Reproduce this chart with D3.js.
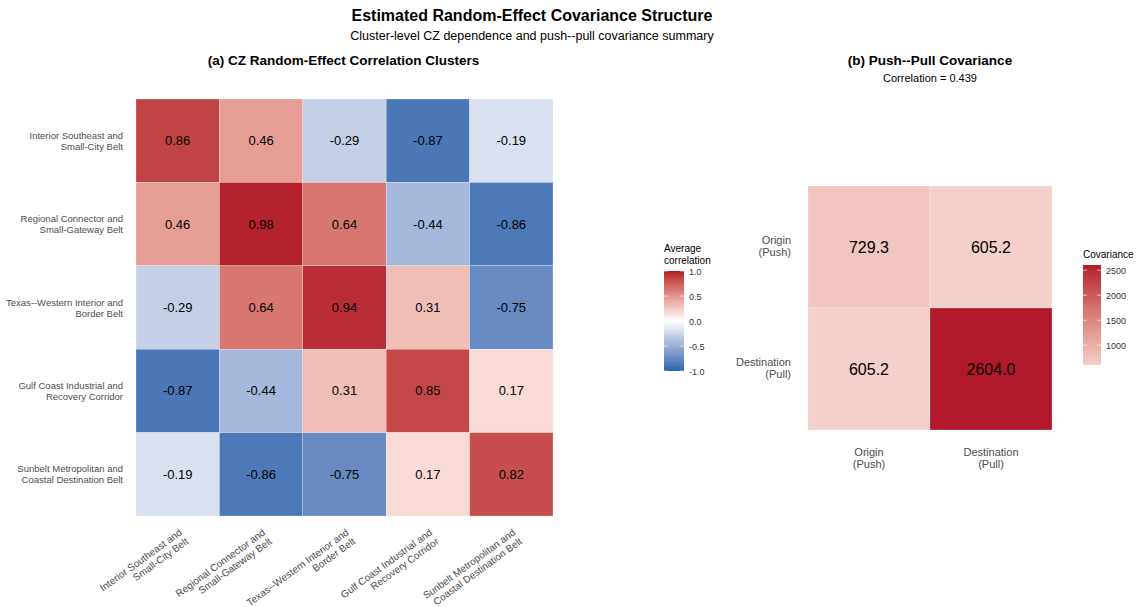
<!DOCTYPE html>
<html>
<head>
<meta charset="utf-8">
<script src="https://cdn.jsdelivr.net/npm/d3@7"></script>
<style>
  body { margin: 0; background: #fff; }
  text { font-family: "Liberation Sans", Arial, sans-serif; }
</style>
</head>
<body>
<svg id="chart" width="1144" height="607"></svg>
<script>
// cluster names (two-line labels)
const clusters = [
  ["Interior Southeast and", "Small-City Belt"],
  ["Regional Connector and", "Small-Gateway Belt"],
  ["Texas--Western Interior and", "Border Belt"],
  ["Gulf Coast Industrial and", "Recovery Corridor"],
  ["Sunbelt Metropolitan and", "Coastal Destination Belt"]
]
const corrRows = [
  [0.86, 0.46, -0.29, -0.87, -0.19],
  [0.46, 0.98, 0.64, -0.44, -0.86],
  [-0.29, 0.64, 0.94, 0.31, -0.75],
  [-0.87, -0.44, 0.31, 0.85, 0.17],
  [-0.19, -0.86, -0.75, 0.17, 0.82]
]
const corrTicks = [1.0, 0.5, 0.0, -0.5, -1.0]

const ppLabels = [["Origin", "(Push)"], ["Destination", "(Pull)"]]
const covRows = [
  [729.3, 605.2],
  [605.2, 2604.0]
]
const covTicks = [2500, 2000, 1500, 1000]
const ppCorrelation = 0.439

const svg = d3.select('#chart')

// titles
svg.append('text').attr('x', 532).attr('y', 21).attr('text-anchor', 'middle')
  .style('font-size', '16px').style('font-weight', 'bold')
  .text('Estimated Random-Effect Covariance Structure')
svg.append('text').attr('x', 532).attr('y', 40).attr('text-anchor', 'middle')
  .style('font-size', '12.5px')
  .text('Cluster-level CZ dependence and push--pull covariance summary')

// ---- panel (a)
const a = { x: 136, y: 99, size: 417 }
const idx = d3.range(clusters.length)
const xA = d3.scaleBand().domain(idx).range([a.x, a.x + a.size])
const yA = d3.scaleBand().domain(idx).range([a.y, a.y + a.size])

const corrColor = d3.scaleLinear()
  .domain([-1, 0, 1])
  .range(['#2166AC', '#FFFFFF', '#B2182B'])
  .interpolate(d3.interpolateLab)
  .clamp(true)

svg.append('text').attr('x', a.x + a.size / 2 - 1).attr('y', 65).attr('text-anchor', 'middle')
  .style('font-size', '13.5px').style('font-weight', 'bold')
  .text('(a) CZ Random-Effect Correlation Clusters')

const cellsA = []
corrRows.forEach((row, i) => row.forEach((v, j) => cellsA.push({ i, j, v })))

const gA = svg.append('g')
gA.selectAll('rect').data(cellsA).enter().append('rect')
  .attr('x', d => xA(d.j)).attr('y', d => yA(d.i))
  .attr('width', xA.bandwidth()).attr('height', yA.bandwidth())
  .attr('fill', d => corrColor(d.v))
  .attr('stroke', '#ffffff').attr('stroke-width', 0.4).attr('stroke-opacity', 0.6)
gA.selectAll('text').data(cellsA).enter().append('text')
  .attr('x', d => xA(d.j) + xA.bandwidth() / 2)
  .attr('y', d => yA(d.i) + yA.bandwidth() / 2 + 4.5)
  .attr('text-anchor', 'middle').style('font-size', '13px').attr('fill', '#000')
  .text(d => d.v.toFixed(2))

// y labels
clusters.forEach((lab, i) => {
  const t = svg.append('text').attr('text-anchor', 'end')
    .attr('x', a.x - 13).attr('y', yA(i) + yA.bandwidth() / 2 - 2)
    .style('font-size', '9.5px').attr('fill', '#4d4d4d')
  lab.forEach((s, k) => t.append('tspan').attr('x', a.x - 13).attr('dy', k ? 11 : 0).text(s))
})
// x labels rotated
clusters.forEach((lab, j) => {
  const cx = xA(j) + xA.bandwidth() / 2 + 5
  const t = svg.append('text').attr('text-anchor', 'end')
    .attr('transform', `translate(${cx},${a.y + a.size + 18}) rotate(-36)`)
    .style('font-size', '10px').attr('fill', '#4d4d4d')
  lab.forEach((s, k) => t.append('tspan').attr('x', 0).attr('dy', k ? 11 : 0).text(s))
})

// legend (a)
const defs = svg.append('defs')
const gradA = defs.append('linearGradient').attr('id', 'gradA')
  .attr('x1', 0).attr('y1', 1).attr('x2', 0).attr('y2', 0)
d3.range(0, 1.0001, 0.05).forEach(t => gradA.append('stop')
  .attr('offset', t).attr('stop-color', corrColor(-1 + 2 * t)))

const legA = { x: 664, y: 271, w: 20, h: 100 }
const yLegA = d3.scaleLinear().domain([-1, 1]).range([legA.y + legA.h, legA.y])
svg.append('text').attr('x', legA.x).attr('y', 252).style('font-size', '10px').text('Average')
svg.append('text').attr('x', legA.x).attr('y', 264).style('font-size', '10px').text('correlation')
svg.append('rect').attr('x', legA.x).attr('y', legA.y).attr('width', legA.w).attr('height', legA.h)
  .attr('fill', 'url(#gradA)')
corrTicks.forEach(v => {
  const y = yLegA(v)
  svg.append('line').attr('x1', legA.x).attr('x2', legA.x + 4).attr('y1', y).attr('y2', y)
    .attr('stroke', '#fff').attr('stroke-opacity', 0.6)
  svg.append('line').attr('x1', legA.x + legA.w - 4).attr('x2', legA.x + legA.w).attr('y1', y).attr('y2', y)
    .attr('stroke', '#fff').attr('stroke-opacity', 0.6)
  svg.append('text').attr('x', legA.x + legA.w + 5).attr('y', y + 3.5)
    .style('font-size', '9px').attr('fill', '#333').text(v.toFixed(1))
})

// ---- panel (b)
const b = { x: 808, y: 186, size: 244 }
const ppIdx = d3.range(ppLabels.length)
const xB = d3.scaleBand().domain(ppIdx).range([b.x, b.x + b.size])
const yB = d3.scaleBand().domain(ppIdx).range([b.y, b.y + b.size])
const covExtent = d3.extent(covRows.flat())
const covColor = d3.scaleLinear().domain(covExtent).range(['#F4CFCB', '#B2182B'])
  .interpolate(d3.interpolateLab)

svg.append('text').attr('x', 930).attr('y', 65).attr('text-anchor', 'middle')
  .style('font-size', '13.5px').style('font-weight', 'bold')
  .text('(b) Push--Pull Covariance')
svg.append('text').attr('x', 930).attr('y', 82).attr('text-anchor', 'middle')
  .style('font-size', '11px')
  .text('Correlation = ' + ppCorrelation.toFixed(3))

const cellsB = []
covRows.forEach((row, i) => row.forEach((v, j) => cellsB.push({ i, j, v })))
const gB = svg.append('g')
gB.selectAll('rect').data(cellsB).enter().append('rect')
  .attr('x', d => xB(d.j)).attr('y', d => yB(d.i))
  .attr('width', xB.bandwidth()).attr('height', yB.bandwidth())
  .attr('fill', d => covColor(d.v))
  .attr('stroke', '#ffffff').attr('stroke-width', 0.5).attr('stroke-opacity', 0.5)
gB.selectAll('text').data(cellsB).enter().append('text')
  .attr('x', d => xB(d.j) + xB.bandwidth() / 2)
  .attr('y', d => yB(d.i) + yB.bandwidth() / 2 + 5.5)
  .attr('text-anchor', 'middle').style('font-size', '16px').attr('fill', '#000')
  .text(d => d.v.toFixed(1))

ppLabels.forEach((lab, i) => {
  const t = svg.append('text').attr('text-anchor', 'end')
    .attr('x', b.x - 17).attr('y', yB(i) + yB.bandwidth() / 2 - 3)
    .style('font-size', '11px').attr('fill', '#4d4d4d')
  lab.forEach((s, k) => t.append('tspan').attr('x', b.x - 17).attr('dy', k ? 12 : 0).text(s))
  const cx = xB(i) + xB.bandwidth() / 2
  const u = svg.append('text').attr('text-anchor', 'middle')
    .attr('y', b.y + b.size + 26)
    .style('font-size', '11px').attr('fill', '#4d4d4d')
  lab.forEach((s, k) => u.append('tspan').attr('x', cx).attr('dy', k ? 12 : 0).text(s))
})

// legend (b)
const gradB = defs.append('linearGradient').attr('id', 'gradB')
  .attr('x1', 0).attr('y1', 1).attr('x2', 0).attr('y2', 0)
d3.range(0, 1.0001, 0.05).forEach(t => gradB.append('stop')
  .attr('offset', t).attr('stop-color', covColor(covExtent[0] + t * (covExtent[1] - covExtent[0]))))
const legB = { x: 1083, y: 265, w: 18, h: 100 }
const yLegB = d3.scaleLinear().domain(covExtent).range([legB.y + legB.h, legB.y])
svg.append('text').attr('x', legB.x).attr('y', 258).style('font-size', '10px').text('Covariance')
svg.append('rect').attr('x', legB.x).attr('y', legB.y).attr('width', legB.w).attr('height', legB.h)
  .attr('fill', 'url(#gradB)')
covTicks.forEach(v => {
  const y = yLegB(v)
  svg.append('line').attr('x1', legB.x).attr('x2', legB.x + 4).attr('y1', y).attr('y2', y)
    .attr('stroke', '#fff').attr('stroke-opacity', 0.6)
  svg.append('line').attr('x1', legB.x + legB.w - 4).attr('x2', legB.x + legB.w).attr('y1', y).attr('y2', y)
    .attr('stroke', '#fff').attr('stroke-opacity', 0.6)
  svg.append('text').attr('x', legB.x + legB.w + 5).attr('y', y + 3.5)
    .style('font-size', '9px').attr('fill', '#333').text(v)
})
</script>
</body>
</html>
